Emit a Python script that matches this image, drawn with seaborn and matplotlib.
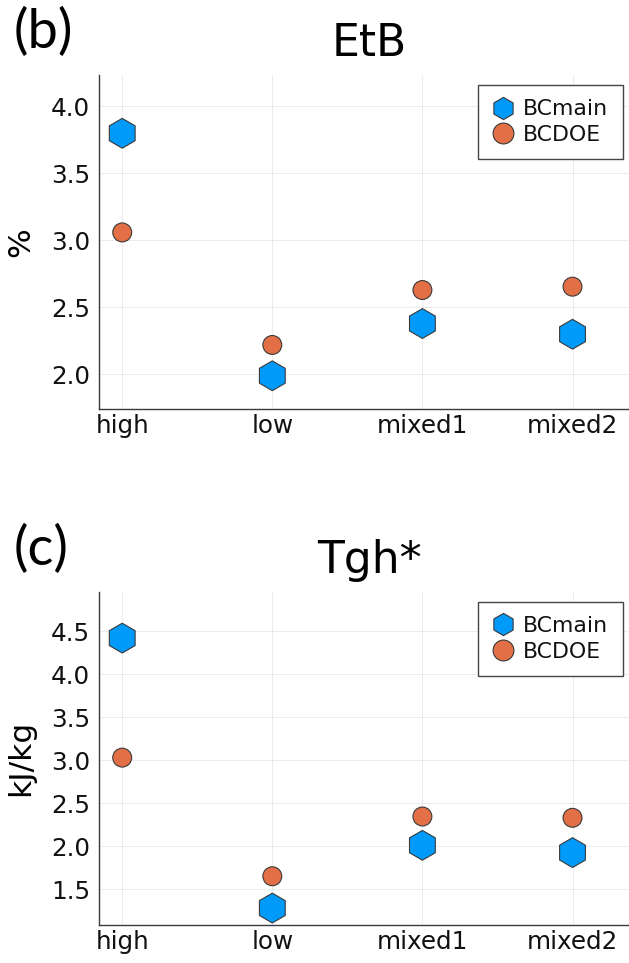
import matplotlib
matplotlib.use("Agg")
import matplotlib.pyplot as plt
from matplotlib.lines import Line2D
import seaborn as sns
import pandas as pd

# ---- data ----
categories = ["high", "low", "mixed1", "mixed2"]
series_names = ["BCmain", "BCDOE"]
etb_bcmain = [3.80, 1.99, 2.38, 2.30]
etb_bcdoe = [3.06, 2.22, 2.63, 2.655]
tgh_bcmain = [4.42, 1.28, 2.01, 1.925]
tgh_bcdoe = [3.03, 1.65, 2.345, 2.33]
etb_yticks = [2.0, 2.5, 3.0, 3.5, 4.0]
tgh_yticks = [1.5, 2.0, 2.5, 3.0, 3.5, 4.0, 4.5]

sns.set_theme(style="white")
plt.rcParams["font.family"] = ["DejaVu Sans"]
plt.rcParams["text.color"] = "black"
plt.rcParams["axes.labelcolor"] = "black"
plt.rcParams["axes.titlecolor"] = "black"
plt.rcParams["xtick.color"] = "black"
plt.rcParams["ytick.color"] = "black"

BLUE = "#009AFA"
ORANGE = "#E36F47"
EDGE = "#3a3a3a"
palette = {"BCmain": BLUE, "BCDOE": ORANGE}
markers = {"BCmain": "h", "BCDOE": "o"}
sizes = {"BCmain": 460, "BCDOE": 185}

W, H = 629, 963
fig = plt.figure(figsize=(W / 100, H / 100), dpi=100)
fig.patch.set_facecolor("white")


def panel(rect, title, ylabel, main, doe, yticks, ylim, tag, tag_base):
    ax = fig.add_axes(rect)
    df = pd.DataFrame({
        "cat": categories * 2,
        "val": list(main) + list(doe),
        "series": [series_names[0]] * len(categories) + [series_names[1]] * len(categories),
    })
    sns.scatterplot(data=df, x="cat", y="val", hue="series", style="series",
                    size="series", sizes=sizes, markers=markers, palette=palette,
                    edgecolor=EDGE, linewidth=0.8, legend=False, ax=ax, zorder=3)
    ax.set_xlim(-0.158, 3.453)
    ax.set_ylim(*ylim)
    ax.set_yticks(yticks)
    ax.set_yticklabels([f"{t:.1f}" for t in yticks])
    ax.set_xlabel("")
    ax.set_ylabel(ylabel, fontsize=22.5, color="black")
    ax.yaxis.label.set_va("center")
    ax.yaxis.set_label_coords(-0.1434, 0.5)
    ax.set_title(title, fontsize=31.7, pad=13.7, color="black")

    for s in ["top", "right"]:
        ax.spines[s].set_visible(False)
    for s in ["left", "bottom"]:
        ax.spines[s].set_color(EDGE)
        ax.spines[s].set_linewidth(1.0)
    ax.tick_params(axis="both", direction="in", length=3.8, width=0.8,
                   color=EDGE, labelsize=17.7, labelcolor="#111111")
    ax.tick_params(axis="y", pad=6.0)
    ax.tick_params(axis="x", pad=3.5)
    ax.grid(True, color="black", alpha=0.08, linewidth=0.7)
    ax.set_axisbelow(True)

    handles = [
        Line2D([], [], ls="", marker="h", ms=16, mfc=BLUE, mec=EDGE, mew=0.8, label="BCmain"),
        Line2D([], [], ls="", marker="o", ms=15, mfc=ORANGE, mec=EDGE, mew=0.8, label="BCDOE"),
    ]
    leg = ax.legend(handles=handles, loc="upper left", bbox_to_anchor=(0.700, 0.970),
                    fontsize=15.8, frameon=True, fancybox=False, framealpha=1,
                    edgecolor="#444444", borderpad=0.65, labelspacing=0.26,
                    handlelength=1.0, handletextpad=0.42, borderaxespad=0, numpoints=1)
    leg.get_frame().set_linewidth(1.0)
    for t in leg.get_texts():
        t.set_color("#111111")

    fig.text(14 / W, 1 - tag_base / H, tag, fontsize=39, family=["Lato", "DejaVu Sans"],
             ha="left", va="baseline", color="black")
    return ax


panel([98.5 / W, 1 - 409 / H, 542 / W, 334 / H], "EtB", "%",
      etb_bcmain, etb_bcdoe, etb_yticks, (1.742, 4.235), "(b)", 48)
panel([98.5 / W, 1 - 925 / H, 542 / W, 333.3 / H], "Tgh*", "kJ/kg",
      tgh_bcmain, tgh_bcdoe, tgh_yticks, (1.083, 4.96), "(c)", 565)

fig.savefig("out.png", dpi=100, facecolor="white")
